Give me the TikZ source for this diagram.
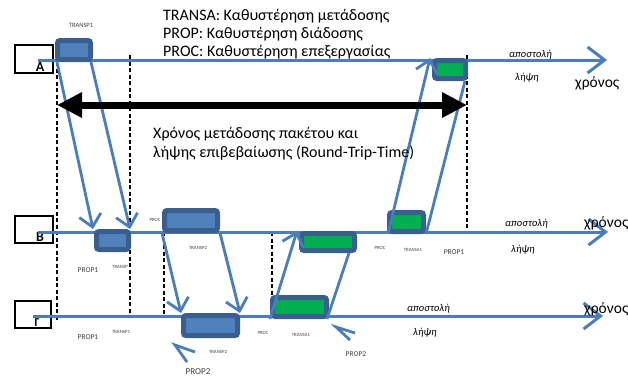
\documentclass[tikz,border=0pt]{standalone}
\usepackage{fontspec}
\setmainfont{Carlito}
\usetikzlibrary{arrows.meta}
\definecolor{lblue}{HTML}{4A7EBB}
\definecolor{dblue}{HTML}{3A5F8E}
\definecolor{fblue}{HTML}{4F81BD}
\definecolor{fgreen}{HTML}{00B050}
\definecolor{tgray}{HTML}{404040}
\begin{document}
\begin{tikzpicture}[x=1pt,y=-1pt,
  tline/.style={draw=lblue,line width=3pt,-{Straight Barb[length=17pt,width=26pt]}},
  sig/.style={draw=lblue,line width=2.8pt},
  sigarr/.style={sig,-{Straight Barb[length=12pt,width=22pt]}},
  pkt/.style={draw=dblue,line width=5pt,rounded corners=2.5pt,fill=fblue,inner sep=0pt},
  gpkt/.style={pkt,fill=fgreen},
  nodeframe/.style={draw=black,line width=1.6pt,inner sep=0pt},
  guide/.style={draw=black,line width=1.4pt,dash pattern=on 4pt off 2.5pt},
  smalllbl/.style={text=tgray,font=\fontsize{4.8}{5}\selectfont,inner sep=0pt},
  proplbl/.style={text=tgray,font=\fontsize{7.5}{8}\selectfont,inner sep=0pt},
  bigtxt/.style={font=\fontsize{16}{17}\selectfont,inner sep=0pt,anchor=base west},
  timetxt/.style={font=\fontsize{15.5}{16}\selectfont,inner sep=0pt,anchor=base west},
  ittxt/.style={font=\fontsize{10.5}{11}\selectfont\itshape,inner sep=0pt,anchor=base west},
  letter/.style={font=\fontsize{14}{14}\selectfont\bfseries,inner sep=0pt,anchor=base}
]
\useasboundingbox (0,0) rectangle (628,376);

% frames
\node[nodeframe,minimum width=38pt,minimum height=28pt] (fA) at (34,59) {};
\node[nodeframe,minimum width=38pt,minimum height=27pt] (fB) at (34,229.5) {};
\node[nodeframe,minimum width=36pt,minimum height=27pt] (fG) at (33,314.5) {};
\node[letter] (lA) at (40,71) {A};
\node[letter] (lB) at (40,241) {B};
\node[letter,font=\fontsize{12}{12}\selectfont\bfseries] (lG) at (37,326) {Γ};

% dashed guides
\coordinate (g1t) at (57,62);  \coordinate (g1b) at (57,320);
\coordinate (g2t) at (130,55); \coordinate (g2b) at (130,316);
\coordinate (g3t) at (164,232); \coordinate (g3b) at (164,316);
\coordinate (g4t) at (272,232); \coordinate (g4b) at (272,316);
\coordinate (g5t) at (467,55); \coordinate (g5b) at (467,232);
\draw[guide] (g1t) -- (g1b);
\draw[guide] (g2t) -- (g2b);
\draw[guide] (g3t) -- (g3b);
\draw[guide] (g4t) -- (g4b);
\draw[guide] (g5t) -- (g5b);

% timelines
\coordinate (As) at (38,60); \coordinate (Ae) at (607,60);
\coordinate (Bs) at (38,232); \coordinate (Be) at (608,232);
\coordinate (Gs) at (33,316); \coordinate (Ge) at (603,316);
\draw[tline] (As) -- (Ae);
\draw[tline] (Bs) -- (Be);
\draw[tline] (Gs) -- (Ge);

% packets
\node[pkt,minimum width=33pt,minimum height=19pt] (pA) at (74,50) {};
\node[gpkt,minimum width=31pt,minimum height=18pt] (pAg) at (450,69.5) {};
\node[pkt,minimum width=32pt,minimum height=18pt] (pBr) at (112.5,240.5) {};
\node[pkt,minimum width=53pt,minimum height=20pt] (pBs) at (191,220.5) {};
\node[gpkt,minimum width=53pt,minimum height=17pt] (pBg) at (328,242) {};
\node[gpkt,minimum width=34pt,minimum height=19pt] (pBsg) at (406.5,222) {};
\node[pkt,minimum width=54pt,minimum height=20pt] (pGr) at (210.5,325.5) {};
\node[gpkt,minimum width=54pt,minimum height=19pt] (pGs) at (299.5,307) {};

% signals
\draw[sigarr] ([xshift=2pt]pA.south west) -- ([xshift=-1pt]pBr.north west);
\draw[sigarr] ([xshift=-2pt]pA.south east) -- ([xshift=-1pt]pBr.north east);
\draw[sigarr] (pBs.south west) -- (pGr.north west);
\draw[sigarr] (pBs.south east) -- (pGr.north east);
\draw[sigarr] (pGs.south west) -- ([xshift=-2pt]pBg.north west);
\draw[sig] ([xshift=-2pt]pGs.south east) -- ([xshift=-8pt]pBg.south east);
\draw[sigarr] ([xshift=1pt]pBsg.south west) -- ([xshift=-2pt]pAg.north west);
\draw[sig] (pBsg.south east) -- ([xshift=-3pt]pAg.south east);

% big RTT arrow
\coordinate (rL) at (57,105); \coordinate (rR) at (467,105);
\draw[line width=7pt,{Triangle[length=25pt,width=24pt]}-{Triangle[length=25pt,width=24pt]}] (rL) -- (rR);

% pointer arrows
\draw[sig] (195,352) -- (175,345) -- (187,362);
\draw[sig] (355,333) -- (336,327) -- (350,340);

% legend
\node[bigtxt] (leg1) at (163,20) {TRANSA: Καθυστέρηση μετάδοσης};
\node[bigtxt] (leg2) at (163,38) {PROP: Καθυστέρηση διάδοσης};
\node[bigtxt] (leg3) at (163,56) {PROC: Καθυστέρηση επεξεργασίας};

\node[bigtxt] (rtt1) at (153,138) {Χρόνος μετάδοσης πακέτου και};
\node[bigtxt] (rtt2) at (153,157) {λήψης επιβεβαίωσης (Round-Trip-Time)};

% time labels
\node[timetxt] (tA) at (575,87) {χρόνος};
\node[timetxt] (tB) at (584,227) {χρόνος};
\node[timetxt] (tG) at (584,313) {χρόνος};
\node[ittxt] (sA) at (509,57) {αποστολή};
\node[ittxt] (rA) at (515,80) {λήψη};
\node[ittxt] (sB) at (505,226) {αποστολή};
\node[ittxt] (rB) at (511,252) {λήψη};
\node[ittxt] (sG) at (407,311) {αποστολή};
\node[ittxt] (rG) at (413,335) {λήψη};

% small labels
\node[smalllbl,font=\fontsize{6.5}{7}\selectfont] (l1) at (81,25) {TRANSP1};
\node[proplbl] (l2) at (88,270) {PROP1};
\node[smalllbl] (l3) at (120,267) {TRANSP};
\node[smalllbl] (l4) at (155,220) {PROC};
\node[smalllbl] (l5) at (198,248) {TRANSP2};
\node[smalllbl] (l6) at (380,248) {PROC};
\node[smalllbl] (l7) at (413,250) {TRANSA1};
\node[proplbl] (l8) at (454,252) {PROP1};
\node[proplbl] (l9) at (88,337) {PROP1};
\node[smalllbl] (l10) at (121,332) {TRANSP1};
\node[smalllbl] (l11) at (218,352) {TRANSP2};
\node[smalllbl] (l12) at (263,333) {PROC};
\node[smalllbl] (l13) at (301,335) {TRANSA1};
\node[proplbl] (l14) at (356,354) {PROP2};
\node[proplbl,font=\fontsize{9}{9}\selectfont] (l15) at (198,372) {PROP2};
\end{tikzpicture}
\end{document}
